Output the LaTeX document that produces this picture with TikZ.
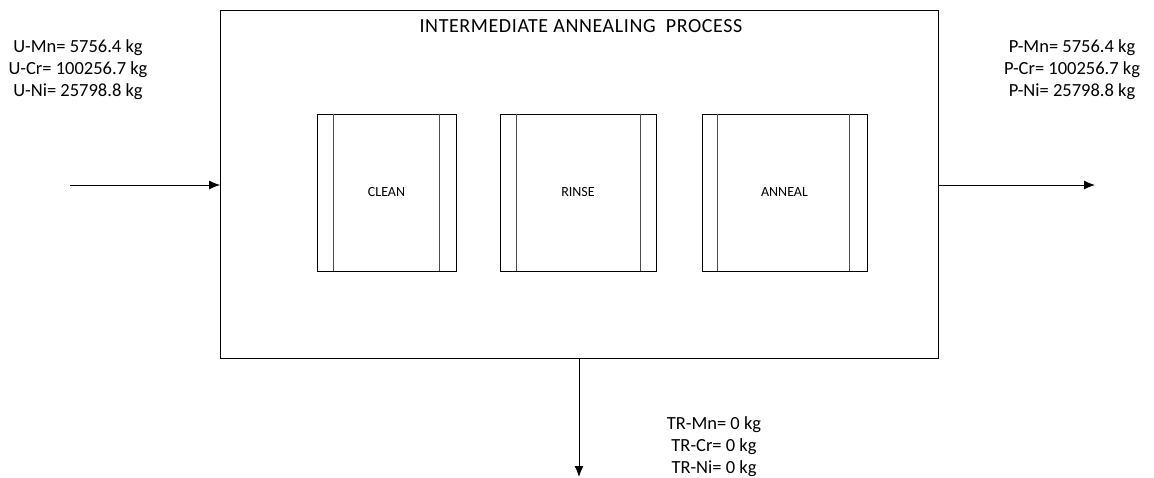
\documentclass[tikz,border=0pt]{standalone}
\usepackage{fontspec}
\setmainfont{Carlito}
\usetikzlibrary{arrows.meta}
\begin{document}
\begin{tikzpicture}[x=1pt,y=-1pt,
  lbl/.style={font=\fontsize{18.5}{22}\selectfont, align=center, inner sep=0pt},
  ttl/.style={font=\fontsize{20}{24}\selectfont\addfontfeatures{LetterSpace=3}, inner sep=0pt},
  flow/.style={-{Latex[length=11pt,width=9pt]}, line width=1pt},
  frame/.style={draw, line width=0.8pt, inner sep=0pt},
  proc/.style={draw, line width=0.8pt, inner sep=0pt, font=\fontsize{14}{17}\selectfont},
  side/.style={line width=0.8pt, draw=black!70}]
\useasboundingbox (0,0) rectangle (1154,477);
% main box
\node[frame, minimum width=718pt, minimum height=348pt] (main) at (579.5,184) {};
\node[ttl] (title) at (581,26) {INTERMEDIATE ANNEALING\ \ PROCESS};
% process units
\node[proc, minimum width=139pt, minimum height=157pt] (clean) at (386.5,192.5) {CLEAN};
\node[proc, minimum width=156pt, minimum height=157pt] (rinse) at (578,192.5) {RINSE};
\node[proc, minimum width=165pt, minimum height=157pt] (anneal) at (784.5,192.5) {ANNEAL};
\draw[side] ([xshift=17pt]clean.north west) -- ([xshift=17pt]clean.south west);
\draw[side] ([xshift=-17pt]clean.north east) -- ([xshift=-17pt]clean.south east);
\draw[side] ([xshift=17pt]rinse.north west) -- ([xshift=17pt]rinse.south west);
\draw[side] ([xshift=-16pt]rinse.north east) -- ([xshift=-16pt]rinse.south east);
\draw[side] ([xshift=16pt]anneal.north west) -- ([xshift=16pt]anneal.south west);
\draw[side] ([xshift=-18pt]anneal.north east) -- ([xshift=-18pt]anneal.south east);
% streams
\coordinate (in) at (70,185);
\coordinate (out) at (1095,185);
\coordinate (down) at (579,477);
\draw[flow] (in) -- (in -| main.west);
\draw[flow] (out -| main.east) -- (out);
\draw[flow] (down |- main.south) -- (down);
% labels
\node[lbl] (ulab) at (78,70) {U-Mn= 5756.4 kg\\U-Cr= 100256.7 kg\\U-Ni= 25798.8 kg};
\node[lbl] (plab) at (1072,70) {P-Mn= 5756.4 kg\\P-Cr= 100256.7 kg\\P-Ni= 25798.8 kg};
\node[lbl] (tlab) at (714,447) {TR-Mn= 0 kg\\TR-Cr= 0 kg\\TR-Ni= 0 kg};
\end{tikzpicture}
\end{document}
